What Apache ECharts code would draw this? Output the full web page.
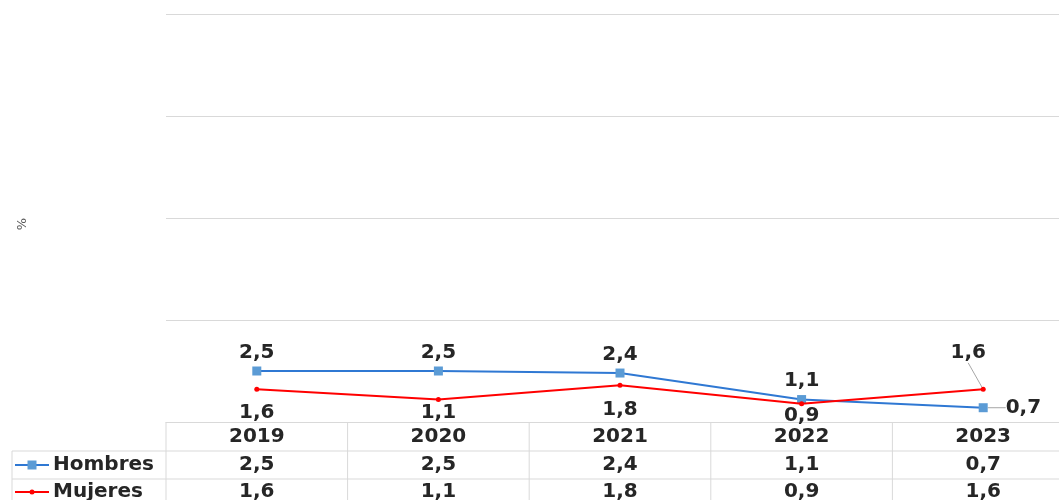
<!DOCTYPE html>
<html>
<head>
<meta charset="utf-8">
<script src="https://cdn.jsdelivr.net/npm/echarts@6/dist/echarts.min.js"></script>
<style>
  html, body { margin: 0; padding: 0; background: #fff; }
  #chart { width: 1059px; height: 500px; }
</style>
</head>
<body>
<div id="chart"></div>
<script>
// Categories and series values
const years = ['2019', '2020', '2021', '2022', '2023'];
const hombres = [2.5, 2.5, 2.4, 1.1, 0.7];
const mujeres = [1.6, 1.1, 1.8, 0.9, 1.6];
const seriesNames = ['Hombres', 'Mujeres'];
const yTicks = { min: 0, max: 20, interval: 5 };

const TEXT = '#262626';
const GRID_LINE = '#d9d9d9';
const BLUE_LINE = '#2F78D3';
const BLUE_MARK = '#5B9BD5';
const RED = '#FF0000';
const LEADER = '#a6a6a6';
const FONT = 'DejaVu Sans';
const FS = 20;

const fmt = v => String(v).replace('.', ',');

const chart = echarts.init(document.getElementById('chart'), null, { renderer: 'canvas' });

// label placement per point
const hLabelPos = [
  { position: 'top', distance: 4 },
  { position: 'top', distance: 4 },
  { position: 'top', distance: 4 },
  { position: 'top', distance: 4 },
  { position: 'right', distance: 18 }
];
const mLabelPos = [
  { position: 'bottom', distance: 11 },
  { position: 'bottom', distance: 1 },
  { position: 'bottom', distance: 12 },
  { position: 'bottom', distance: 0 },
  { position: 'top', distance: 8 }
];

const labelBase = { show: true, color: TEXT, fontFamily: FONT, fontWeight: 'bold', fontSize: FS, formatter: p => fmt(p.value) };
const leader = { show: true, lineStyle: { color: LEADER, width: 1 } };

chart.setOption({
  animation: false,
  grid: { left: 166, top: 14, width: 908, bottom: 78, containLabel: false, outerBoundsMode: 'none' },
  xAxis: {
    type: 'category',
    data: years,
    boundaryGap: true,
    axisLine: { show: true, lineStyle: { color: GRID_LINE, width: 1 } },
    axisTick: { show: false },
    axisLabel: { show: false }
  },
  yAxis: {
    type: 'value',
    min: yTicks.min, max: yTicks.max, interval: yTicks.interval,
    name: '%', nameLocation: 'middle', nameRotate: 90, nameGap: 137,
    nameTextStyle: { color: '#595959', fontFamily: FONT, fontSize: 13, padding: [0, 12, 0, 0] },
    axisLine: { show: false }, axisTick: { show: false }, axisLabel: { show: false },
    splitLine: { lineStyle: { color: GRID_LINE, width: 1 } }
  },
  series: [
    {
      name: seriesNames[0], type: 'line',
      data: hombres.map((v, i) => ({ value: v, label: hLabelPos[i], labelLine: i === 4 ? leader : { show: false } })),
      symbol: 'rect', symbolSize: 9,
      itemStyle: { color: BLUE_MARK },
      lineStyle: { color: BLUE_LINE, width: 2 },
      label: Object.assign({}, labelBase),
      labelLine: { show: false },
      z: 3
    },
    {
      name: seriesNames[1], type: 'line',
      data: mujeres.map((v, i) => ({ value: v, label: mLabelPos[i], labelLine: i === 4 ? leader : { show: false } })),
      symbol: 'circle', symbolSize: 5,
      itemStyle: { color: RED },
      lineStyle: { color: RED, width: 2 },
      label: Object.assign({}, labelBase),
      labelLine: { show: false },
      labelLayout: p => p.dataIndex === 4 ? { dx: -15, dy: -16 } : {},
      z: 4
    }
  ]
});

// Data table under the plot, aligned to the category bands
function drawTable() {
  const centers = years.map((y, i) => chart.convertToPixel({ xAxisIndex: 0 }, i));
  const band = centers[1] - centers[0];
  const x0 = centers[0] - band / 2;
  const x1 = centers[centers.length - 1] + band / 2;
  const top = chart.convertToPixel({ yAxisIndex: 0 }, 0);
  const rowH = [top, top + 29, top + 57, 500];
  const labelLeft = 12;
  const els = [];
  const line = (ax, ay, bx, by) => els.push({
    type: 'line', shape: { x1: ax, y1: ay, x2: bx, y2: by },
    style: { stroke: GRID_LINE, lineWidth: 1 }, silent: true
  });
  // horizontal rules
  line(labelLeft, rowH[1], x1, rowH[1]);
  line(labelLeft, rowH[2], x1, rowH[2]);
  // vertical rules
  line(labelLeft, rowH[1], labelLeft, rowH[3]);
  for (let i = 0; i <= years.length; i++) {
    const x = x0 + i * band;
    line(x, rowH[0], x, rowH[3]);
  }
  const text = (t, x, y, align) => els.push({
    type: 'text', x: x, y: y, silent: true,
    style: { text: t, fill: TEXT, font: 'bold ' + FS + 'px "' + FONT + '"', textAlign: align || 'center', textVerticalAlign: 'middle' }
  });
  const rows = [hombres, mujeres];
  const midY = [top + 15, top + 43, top + 70];
  years.forEach((y, i) => {
    text(y, centers[i], midY[0]);
    rows.forEach((r, k) => text(fmt(r[i]), centers[i], midY[k + 1]));
  });
  // legend keys inside the row-header cells
  const keyX0 = 15, keyX1 = 49;
  const keys = [
    { color: BLUE_LINE, mark: BLUE_MARK, rect: true },
    { color: RED, mark: RED, rect: false }
  ];
  keys.forEach((k, idx) => {
    const y = midY[idx + 1];
    els.push({ type: 'line', shape: { x1: keyX0, y1: y, x2: keyX1, y2: y }, style: { stroke: k.color, lineWidth: 2 }, silent: true });
    if (k.rect) {
      els.push({ type: 'rect', shape: { x: (keyX0 + keyX1) / 2 - 4.5, y: y - 4.5, width: 9, height: 9 }, style: { fill: k.mark }, silent: true });
    } else {
      els.push({ type: 'circle', shape: { cx: (keyX0 + keyX1) / 2, cy: y, r: 2.5 }, style: { fill: k.mark }, silent: true });
    }
    text(seriesNames[idx], keyX1 + 4, y, 'left');
  });
  chart.setOption({ graphic: { elements: els } });
}
drawTable();
</script>
</body>
</html>
